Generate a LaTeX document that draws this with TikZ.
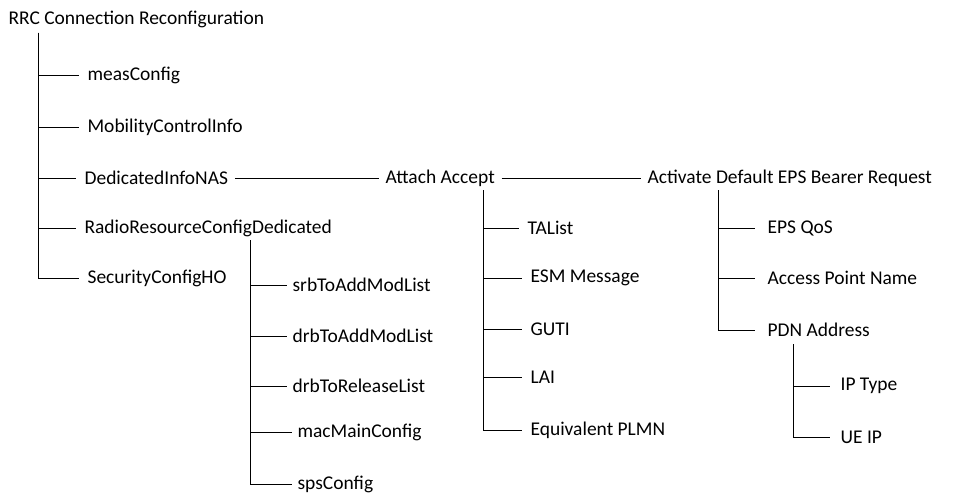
\documentclass[tikz,border=0pt]{standalone}
\usepackage{fontspec}
\setmainfont{Carlito}
\begin{document}
\begin{tikzpicture}[x=0.75pt,y=-0.75pt,thin,
        item/.style={anchor=west,inner sep=1pt,font=\fontsize{14.6}{16}\selectfont}]
    \useasboundingbox (0,0) rectangle (968,503);

    \node[item] (rrc) at (7,19) {RRC Connection Reconfiguration};
    \node[item] (meas) at (86,75) {measConfig};
    \node[item] (mob) at (86,127) {MobilityControlInfo};
    \node[item] (ded) at (83,178) {DedicatedInfoNAS};
    \node[item] (radio) at (83,228) {RadioResourceConfigDedicated};
    \node[item] (sec) at (86,278) {SecurityConfigHO};

    \node[item] (att) at (384,178) {Attach Accept};
    \node[item] (act) at (646,178) {Activate Default EPS Bearer Request};

    \node[item] (srb) at (291,285) {srbToAddModList};
    \node[item] (drb) at (291,336) {drbToAddModList};
    \node[item] (drbrel) at (291,386) {drbToReleaseList};
    \node[item] (mac) at (296,432) {macMainConfig};
    \node[item] (sps) at (296,484) {spsConfig};

    \node[item] (ta) at (526,228) {TAList};
    \node[item] (esm) at (529,278) {ESM Message};
    \node[item] (guti) at (529,329) {GUTI};
    \node[item] (lai) at (529,377) {LAI};
    \node[item] (plmn) at (529,430) {Equivalent PLMN};

    \node[item] (qos) at (766,228) {EPS QoS};
    \node[item] (apn) at (766,278) {Access Point Name};
    \node[item] (pdn) at (766,330) {PDN Address};

    \node[item] (ipt) at (839,386) {IP Type};
    \node[item] (ueip) at (839,437) {UE IP};

    \coordinate (rrcroot) at (38,33);
    \coordinate (radioroot) at (250,240);
    \coordinate (attroot) at (483,190);
    \coordinate (actroot) at (718,190);
    \coordinate (pdnroot) at (793,344);

    % main branches
    \foreach \n in {meas,mob,ded,radio,sec}
        \draw (rrcroot) |- ([xshift=-5pt]\n.west);
    \foreach \n in {srb,drb,drbrel,mac,sps}
        \draw (radioroot) |- ([xshift=-3pt]\n.west);
    \foreach \n in {ta,esm,guti,lai,plmn}
        \draw (attroot) |- ([xshift=-5pt]\n.west);
    \foreach \n in {qos,apn,pdn}
        \draw (actroot) |- ([xshift=-8pt]\n.west);
    \foreach \n in {ipt,ueip}
        \draw (pdnroot) |- ([xshift=-7pt]\n.west);

    \draw ([xshift=4pt]ded.east) -- ([xshift=-4pt]att.west);
    \draw ([xshift=4pt]att.east) -- ([xshift=-4pt]act.west);
\end{tikzpicture}
\end{document}
